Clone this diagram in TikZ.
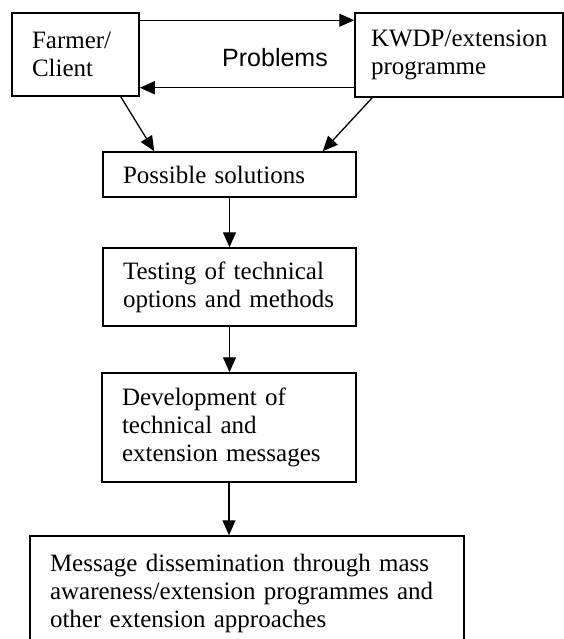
\documentclass[tikz,border=0pt]{standalone}
\usepackage{fontspec}
\setmainfont{Liberation Serif}
\newfontfamily\probfont{Liberation Sans}
\usetikzlibrary{arrows.meta}
\begin{document}
\begin{tikzpicture}[x=1pt, y=-1pt,
	box/.style={draw, line width=1.5pt, align=left, inner xsep=20pt, font=\fontsize{25}{28}\selectfont},
	arr/.style={line width=1.3pt, -{Triangle[length=15pt, width=13pt]}}]
	% 1. Page frame
	\useasboundingbox (0,0) rectangle (564,639);
	% 2. Top row: farmer and programme
	\node[box, text width=87pt, minimum height=83pt] (farmer) at (75.5,54.5) {Farmer/\\Client};
	\node[box, text width=176pt, inner xsep=16pt, minimum height=84pt] (kwdp) at (459,55) {KWDP/extension\\programme};
	\node[font=\probfont\fontsize{25}{28}\selectfont] (prob) at (275,58) {Problems};
	\coordinate (top) at ([yshift=-8pt]farmer.north east);
	\coordinate (bot) at ([yshift=10pt]kwdp.south west);
	\draw[arr] (top) -- (top -| kwdp.west);
	\draw[arr] (bot) -- (bot -| farmer.east);
	% 3. Chain of steps
	\node[box, text width=213pt, minimum height=45pt] (poss) at (229.5,174.5) {Possible solutions};
	\node[box, text width=213pt, minimum height=78pt] (test) at (229.5,287) {Testing of technical\\options and methods};
	\node[box, text width=214pt, minimum height=109pt] (dev) at (229,427.5) {Development of\\technical and\\extension messages};
	\node[box, text width=394pt, minimum height=114pt] (msg) at (247,593) {Message dissemination through mass\\awareness/extension programmes and\\other extension approaches};
	% 4. Arrows
	\draw[arr] ([xshift=-19pt]farmer.south east) -- ([xshift=52pt]poss.north west);
	\draw[arr] ([xshift=18pt]kwdp.south west) -- ([xshift=-34pt]poss.north east);
	\draw[arr] (poss.south) -- (test.north);
	\draw[arr] (test.south) -- (test.south |- dev.north);
	\draw[arr] (dev.south) -- (dev.south |- msg.north);
\end{tikzpicture}
\end{document}
